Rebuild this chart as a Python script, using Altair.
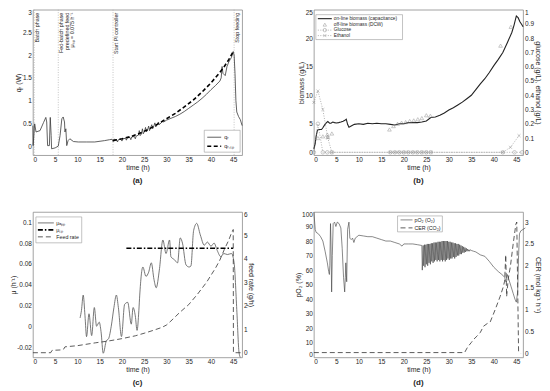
import altair as alt
import pandas as pd

FONT = "Liberation Sans"
INK = "#262626"
GRAY = "#808080"

# ---------------- (a) heat flow ----------------
QR_T = [0, 0.05, 0.4, 0.7, 1.6, 2.4, 2.9, 3.1, 3.3, 3.7, 3.9, 4.1, 4.2, 5.0, 5.7, 6.1, 6.5, 6.8, 7.1, 7.2,
        7.4, 7.6, 7.9, 8.3, 9.1, 10.2, 12.0, 13.9, 16.1, 17.2,
        17.8, 18.0, 18.2, 18.8, 19.0, 19.2, 19.8, 20.0, 20.2, 20.8, 21.0, 21.2, 21.8, 22.0, 22.2, 22.8, 23.0,
        23.2, 23.7, 23.9, 24.1, 24.4, 24.6, 24.8, 25.1, 25.3, 25.5, 25.8, 26.0, 26.2, 26.5, 26.7, 26.9, 27.2,
        27.4, 27.6, 27.9, 28.2, 28.4, 28.8, 29.1, 29.4,
        30, 31, 32, 33, 34, 35, 36, 37, 38, 39, 40, 41, 42, 42.3, 42.5, 42.7, 43.2, 43.6, 44.0, 44.3, 44.6,
        45.0, 45.2, 45.4, 45.6, 45.8, 46.2, 46.6, 47]
QR_V = [0.45, 0.01, 0.49, 0.31, 0.34, 0.52, 0.63, 0.53, 0.01, 0.01, 0.63, 0.23, -0.06, -0.04, 0.0, 0.23, 0.6, 0.64,
        0.53, 0.31, 0.38, 0.01, 0.12, 0.16, 0.1, 0.09, 0.09, 0.09, 0.12, 0.14,
        0.15, 0.10, 0.15, 0.14, 0.09, 0.14, 0.15, 0.11, 0.16, 0.17, 0.13, 0.18, 0.19, 0.14, 0.20, 0.21, 0.16,
        0.22, 0.24, 0.34, 0.23, 0.27, 0.38, 0.27, 0.33, 0.41, 0.31, 0.37, 0.44, 0.34, 0.42, 0.47, 0.38, 0.45,
        0.51, 0.42, 0.48, 0.53, 0.47, 0.51, 0.55, 0.53,
        0.57, 0.61, 0.65, 0.70, 0.76, 0.83, 0.90, 0.97, 1.05, 1.14, 1.24, 1.33, 1.43, 1.5, 1.75, 1.6, 1.55,
        1.75, 1.85, 1.9, 1.95, 2.08, 2.0, 1.6, 1.0, 0.75, 0.65, 0.58, 0.45]
QRSP_T = [18, 20, 22, 24, 26, 28, 30, 32, 34, 36, 38, 40, 42, 43, 44, 45]
QRSP_V = [0.12, 0.16, 0.21, 0.28, 0.37, 0.48, 0.6, 0.72, 0.86, 1.01, 1.19, 1.39, 1.62, 1.75, 1.9, 2.08]
PHASE_T = [0.3, 5.7, 18.0, 45.2]
PHASE_TXT = ["Batch phase", "Fed-batch phase\npredefined feed\nμₛₚ = 0.075 h⁻¹",
             "Start PI controller", "Stop feeding"]

# ---------------- (b) biomass, glucose, ethanol ----------------
BIO_T = [0, 0.3, 0.5, 0.8, 1.2, 1.7, 2.0, 2.4, 2.8, 3.1, 3.5, 3.8, 4.2, 4.6, 5.0, 5.5, 6.0, 6.5, 6.9, 7.2,
         7.5, 7.8, 8.5, 9, 10, 11, 12, 13, 14, 15, 16, 17, 18, 19, 20, 21, 22, 23, 24, 25,
         26, 27, 28, 29, 30, 31, 32, 33, 34, 35, 36, 37, 38, 39, 40, 41, 42, 43, 44, 44.5,
         45, 45.4, 45.8, 46.2, 46.5]
BIO_V = [0.6, 1.5, 2.8, 3.9, 4.0, 4.0, 4.3, 4.8, 5.2, 5.4, 5.1, 5.1, 5.3, 5.2, 5.15, 5.2, 5.3, 5.45, 5.6, 5.8,
         4.9, 4.4, 4.7, 4.9, 5.0, 4.9, 5.1, 5.0, 5.1, 5.0, 5.0, 4.9, 4.8, 5.0, 5.0, 5.2, 5.2, 5.2, 5.3, 5.5,
         6.1, 6.2, 6.5, 6.9, 7.4, 7.8, 8.3, 8.8, 9.4, 10.0, 11.0, 12.0, 12.9, 14.0, 15.2, 16.3, 17.5, 19.2,
         21.0, 22.3, 23.9, 23.6, 22.9, 22.4, 22.0]
DCW_T = [0.9, 2.0, 3.0, 3.1, 4.0, 16.8, 17.7, 18.6, 19.5, 20.4, 21.3, 22.2, 23.1, 24.0, 25.0, 25.9, 41.5, 43.8]
DCW_V = [2.5, 2.8, 3.1, 2.7, 3.3, 4.0, 4.6, 5.0, 5.2, 5.3, 5.5, 5.6, 5.8, 6.0, 6.5, 6.4, 18.7, 22.0]
GLU_T = [0, 0.9, 2.0, 3.0, 4.0, 17, 18, 19, 20, 21, 22, 23, 24, 25, 26, 42, 44.6, 46.3]
GLU_V = [0, 0.2, 0, 0, 0, 0, 0, 0, 0, 0, 0, 0, 0, 0, 0, 0, 0, 0]
ETH_T = [0, 0.9, 2.0, 3.1, 4.0, 17, 18, 19, 20, 21, 22, 23, 24, 25, 26, 42, 43.7, 45.6]
ETH_V = [0.35, 0.43, 0.3, 0.1, 0, 0, 0, 0, 0, 0, 0, 0, 0, 0, 0, 0, 0.035, 0.117]

# ---------------- (c) growth rate and feed ----------------
MU_T = [10.6, 10.9, 11.3, 11.7, 12.05, 12.6, 13.2, 13.8, 14.3, 14.9, 15.3, 15.8, 16.5, 17.0, 17.6, 18.2,
        18.75, 19.2, 19.9, 20.6, 21.3, 22.1, 22.5, 23.0, 23.4, 23.8, 24.0, 24.7, 25.4, 26.0, 26.6, 27.2,
        27.7, 28.4, 29.2, 29.9, 30.7, 31.0, 31.8, 32.5, 33.1, 33.6, 34.4, 35.1, 35.5, 36.1, 36.8, 37.6,
        38.5, 39.2, 40.0, 40.7, 41.4, 42.2, 42.9, 43.7, 44.6, 45.2, 45.8, 46.3, 46.6]
MU_V = [0.008, 0.015, 0.030, 0.010, -0.010, 0.012, -0.009, 0.018, 0.000, 0.004, -0.005, -0.026, -0.014,
        -0.012, 0.000, 0.018, 0.030, 0.018, -0.010, 0.021, 0.023, 0.002, 0.018, 0.010, -0.004, 0.015,
        0.030, 0.057, 0.048, 0.052, 0.061, 0.045, 0.037, 0.054, 0.083, 0.070, 0.083, 0.067, 0.064, 0.061,
        0.085, 0.080, 0.059, 0.057, 0.058, 0.092, 0.099, 0.088, 0.078, 0.081, 0.077, 0.080, 0.073, 0.067,
        0.070, 0.069, 0.070, 0.061, 0.016, -0.025, -0.03]
MUSP_T = [21, 45]
MUSP_V = [0.075, 0.075]
FEED_T = [0, 4.0, 4.3, 6.5, 6.9, 7.2, 10, 14, 17, 20, 23, 25, 27, 29, 30, 31, 33, 35, 37, 39, 41, 42, 43,
          44, 44.5, 45.0, 45.05, 47]
FEED_V = [0, 0, 0.1, 0.12, 0.15, 0.25, 0.3, 0.42, 0.5, 0.6, 0.72, 0.83, 0.95, 1.08, 1.18, 1.35, 1.72, 2.05,
          2.5, 3.0, 3.6, 3.95, 4.4, 4.8, 5.05, 5.25, 0, 0]

# ---------------- (d) pO2 and CER ----------------
PO2_T = ([0, 0.3, 0.5, 1.0, 1.5, 2.0, 2.5, 3.0, 3.3, 3.45, 3.55, 3.7, 3.8, 3.95, 4.1, 4.3, 4.6, 4.9, 5.2, 5.6,
          6.0, 6.3, 6.6, 6.85, 7.0, 7.1, 7.3, 7.5, 7.8, 8.0, 8.3, 8.6, 8.9, 9.2, 9.6, 10, 11, 12, 13, 14, 15,
          16, 17, 18, 19, 19.6, 20, 21, 22, 23, 23.9]
         + [24.0, 24.1, 24.3, 24.4, 24.6, 24.7, 24.9, 25.0, 25.2, 25.3, 25.5, 25.6, 25.8, 25.9, 26.1, 26.2,
            26.4, 26.5, 26.7, 26.8, 27.0, 27.1, 27.3, 27.4, 27.6, 27.7, 27.9, 28.0, 28.2, 28.3, 28.5, 28.6,
            28.8, 28.9, 29.1, 29.2, 29.4, 29.5, 29.7, 29.8, 30.0, 30.1, 30.3, 30.4, 30.6, 30.7, 30.9, 31.0,
            31.2, 31.3, 31.5, 31.6, 31.8, 31.9, 32.1, 32.2, 32.4, 32.5, 32.7, 32.8, 33.0, 33.1, 33.3, 33.4,
            33.6, 33.7, 33.9, 34.0, 34.2, 34.3, 34.5, 34.6, 34.8, 35.0, 35.5]
         + [36, 37, 38, 39, 40, 41, 42, 42.4, 42.7, 43.0, 43.3, 43.8, 44.3, 44.7, 45.0, 45.3, 45.5, 45.7, 46,
            46.5, 47])
PO2_V = ([100, 88, 86, 85, 83, 80, 73, 65, 59, 57, 63, 92, 80, 45, 70, 92, 93, 90, 93, 92, 89, 75, 55, 45, 55,
          65, 52, 88, 93, 82, 81, 82, 79, 82, 83, 84, 83.5, 83, 83, 82, 81, 80, 80, 79, 78, 76.5, 78, 78, 78,
          77.5, 77]
         + [77, 60, 77, 63, 77.5, 62, 77.5, 64, 78, 63, 78, 65, 78, 64, 78.5, 66, 78.5, 65, 79, 66, 79, 67, 79,
            66, 79.5, 67, 79.5, 66, 79.5, 67, 80, 66, 80, 67, 80, 66, 80, 67, 80, 68, 79.5, 67, 79.5, 68, 79,
            68, 79, 69, 78.5, 68, 78.5, 69, 78, 70, 78, 70, 77.5, 71, 77, 71, 76.5, 72, 76, 72, 75.5, 72.5, 75,
            73, 74.5, 73, 74, 73, 74, 73.5, 73]
         + [72.5, 70.5, 69.5, 66, 62, 59, 56.5, 55, 52, 57, 54, 49, 44, 40, 38, 45, 70, 85, 87, 88, 89])
CER_T = [0, 33.5, 34.2, 35.0, 35.5, 36.3, 37.0, 37.7, 38.5, 39.2, 40.3, 41.4, 42.1, 42.4, 42.65, 42.85, 43.2,
         43.7, 44.3, 44.9, 45.1, 45.3, 45.5, 46.0]
CER_V = [0.02, 0.02, 0.15, 0.25, 0.32, 0.4, 0.48, 0.62, 0.68, 0.72, 1.0, 1.3, 1.52, 1.65, 2.25, 1.3, 1.7,
         2.0, 2.5, 2.95, 3.0, 1.5, 0.05, 0.0]

W, H = 210, 146
ONE = pd.DataFrame({"k": [0]})
MINUS = "replace(datum.label, '\u2212', '-')"


def df(t, v):
    return pd.DataFrame({"t": t, "v": v})


def xenc(dmax):
    return alt.X("t:Q", scale=alt.Scale(domain=[0, dmax], nice=False, zero=False),
                 axis=alt.Axis(values=list(range(0, 50, 5)), title="time (h)", format="d"))


def yenc(domain, values, title, fmt, orient="left"):
    return alt.Y("v:Q", scale=alt.Scale(domain=domain, nice=False, zero=False),
                 axis=alt.Axis(values=values, title=title, orient=orient, format=fmt,
                               labelExpr=MINUS, labelFlush=True))


def leg_box(x1, x2, y1, y2):
    return alt.Chart(ONE).mark_rect(fill="white", stroke="#9a9a9a", strokeWidth=0.6).encode(
        x=alt.value(x1), x2=alt.value(x2), y=alt.value(y1), y2=alt.value(y2))


def leg_line(x1, x2, y, color, width, dash=None):
    kw = dict(color=color, strokeWidth=width)
    if dash:
        kw["strokeDash"] = dash
    return alt.Chart(ONE).mark_rule(**kw).encode(x=alt.value(x1), x2=alt.value(x2), y=alt.value(y))


def leg_text(x, y, txt, size=5.3):
    return alt.Chart(ONE).mark_text(text=txt, align="left", baseline="middle", fontSize=size,
                                    font=FONT, color=INK).encode(x=alt.value(x), y=alt.value(y))


def leg_point(x, y, shape, size=12):
    return alt.Chart(ONE).mark_point(shape=shape, filled=False, size=size, color=GRAY,
                                     strokeWidth=0.6).encode(x=alt.value(x), y=alt.value(y))


XMARK = "M-1,-1L1,1M-1,1L1,-1"

# ---------- panel (a)
xa = xenc(47)
ya = yenc([-0.2, 3], [0, 0.5, 1, 1.5, 2, 2.5, 3], "qᵣ (W)", ".1~f")
phase = pd.DataFrame({"t": PHASE_T, "txt": PHASE_TXT})
pa = alt.layer(
    alt.Chart(phase).mark_rule(color="#aaaaaa", strokeDash=[1, 1.5], strokeWidth=0.7).encode(x=xa),
    alt.Chart(phase).mark_text(angle=270, align="right", baseline="top", dy=1.2, fontSize=5.4,
                               lineBreak="\n", lineHeight=5.2, font=FONT, color=INK).encode(
        x=xa, y=alt.value(3), text="txt:N"),
    alt.Chart(df(QR_T, QR_V)).mark_line(color="#3a3a3a", strokeWidth=0.8).encode(x=xa, y=ya),
    alt.Chart(df(QRSP_T, QRSP_V)).mark_line(color="black", strokeWidth=1.6, strokeDash=[4, 2.5]).encode(x=xa, y=ya),
    leg_box(172, 208, 121, 143),
    leg_line(175, 189, 128, "#3a3a3a", 0.8),
    leg_line(175, 189, 137, "black", 1.6, [4, 2.5]),
    leg_text(192, 128, "qᵣ", 5.5),
    leg_text(192, 137, "qᵣ,ₛₚ", 5.5),
).properties(width=W, height=H, title=alt.TitleParams("(a)", orient="bottom", offset=6))

# ---------- panel (b)
xb = xenc(46.5)
ybl = yenc([-0.5, 25], [0, 5, 10, 15, 20, 25], "biomass (g/L)", "d")
ybr = yenc([-0.02, 1], [0, 0.1, 0.2, 0.3, 0.4, 0.5, 0.6, 0.7, 0.8, 0.9, 1],
           "glucose (g/L), ethanol (g/L)", ".1~f", "right")
b_left = alt.layer(
    alt.Chart(df(BIO_T, BIO_V)).mark_line(color="#222222", strokeWidth=1.1).encode(x=xb, y=ybl),
    alt.Chart(df(DCW_T, DCW_V)).mark_point(shape="triangle-up", filled=False, size=14, color=GRAY,
                                           strokeWidth=0.6).encode(x=xb, y=ybl),
)
b_right = alt.layer(
    alt.Chart(df(GLU_T, GLU_V)).mark_line(color=GRAY, strokeWidth=0.6, strokeDash=[1, 1.5]).encode(x=xb, y=ybr),
    alt.Chart(df(ETH_T, ETH_V)).mark_line(color=GRAY, strokeWidth=0.6, strokeDash=[1, 1.5]).encode(x=xb, y=ybr),
    alt.Chart(df(GLU_T, GLU_V)).mark_point(shape="circle", filled=False, size=13, color=GRAY,
                                           strokeWidth=0.6).encode(x=xb, y=ybr),
    alt.Chart(df(ETH_T, ETH_V)).mark_point(shape=XMARK, filled=False, size=9, color=GRAY,
                                           strokeWidth=0.6).encode(x=xb, y=ybr),
)
pb = alt.layer(
    b_left, b_right,
    leg_box(2, 89, 5, 30),
    leg_line(4, 18, 9, "#222222", 1.1),
    leg_point(11, 15, "triangle-up"),
    leg_line(4, 18, 20.5, GRAY, 0.6, [1, 1.5]),
    leg_point(11, 20.5, "circle"),
    leg_line(4, 18, 26, GRAY, 0.6, [1, 1.5]),
    leg_point(11, 26, XMARK, 9),
    leg_text(20, 9, "on-line biomass (capacitance)", 4.8),
    leg_text(20, 15, "off-line biomass (DCW)", 4.8),
    leg_text(20, 20.5, "Glucose", 4.8),
    leg_text(20, 26, "Ethanol", 4.8),
).resolve_scale(y="independent").properties(
    width=W, height=H, title=alt.TitleParams("(b)", orient="bottom", offset=6))

# ---------- panel (c)
xc = xenc(47)
ycl = yenc([-0.03, 0.11], [-0.02, 0, 0.02, 0.04, 0.06, 0.08, 0.1], "μ (h⁻¹)", ".2~f")
ycr = yenc([-0.2, 6], [0, 1, 2, 3, 4, 5, 6], "feed rate (g/h)", "d", "right")
c_left = alt.layer(
    alt.Chart(df(MU_T, MU_V)).mark_line(color="#555555", strokeWidth=0.8,
                                        interpolate="monotone").encode(x=xc, y=ycl),
    alt.Chart(df(MUSP_T, MUSP_V)).mark_line(color="black", strokeWidth=1.6,
                                            strokeDash=[5, 2, 1.5, 2]).encode(x=xc, y=ycl),
)
c_right = alt.Chart(df(FEED_T, FEED_V)).mark_line(color="#333333", strokeWidth=0.8,
                                                  strokeDash=[5, 3]).encode(x=xc, y=ycr)
pc = alt.layer(
    c_left, c_right,
    leg_box(3, 49, 5, 31),
    leg_line(5, 21, 11, "#555555", 0.8),
    leg_line(5, 21, 18, "black", 1.6, [5, 2, 1.5, 2]),
    leg_line(5, 21, 25, "#333333", 0.8, [5, 3]),
    leg_text(23.5, 11, "μₐₚₚ"),
    leg_text(23.5, 18, "μₛₚ"),
    leg_text(23.5, 25, "Feed rate"),
).resolve_scale(y="independent").properties(
    width=W, height=H, title=alt.TitleParams("(c)", orient="bottom", offset=6))

# ---------- panel (d)
xd = xenc(46.5)
ydl = yenc([0, 100], list(range(0, 101, 10)), "pO₂ (%)", "d")
ydr = yenc([-0.09, 3.23], [0, 0.5, 1, 1.5, 2, 2.5, 3], "CER (mol kg⁻¹ h⁻¹)", ".1~f", "right")
pd_ = alt.layer(
    alt.Chart(df(PO2_T, PO2_V)).mark_line(color="#3a3a3a", strokeWidth=0.6).encode(x=xd, y=ydl),
    alt.Chart(df(CER_T, CER_V)).mark_line(color="#333333", strokeWidth=0.8,
                                          strokeDash=[5, 3]).encode(x=xd, y=ydr),
    leg_box(84, 129, 4, 20),
    leg_line(87, 99, 8, "#3a3a3a", 0.6),
    leg_line(87, 99, 16, "#333333", 0.8, [5, 3]),
    leg_text(101, 8, "pO₂ (O₂)"),
    leg_text(101, 16, "CER (CO₂)"),
).resolve_scale(y="independent").properties(
    width=W, height=H, title=alt.TitleParams("(d)", orient="bottom", offset=6))

chart = alt.concat(
    pa, pb, pc, pd_, columns=2, spacing={"row": 57, "column": 72}, bounds="flush"
).properties(
    padding={"left": 0, "top": 0, "right": 0, "bottom": 0}
).configure_axis(
    labelFont=FONT, titleFont=FONT, labelFontSize=6.5, titleFontSize=7, labelColor=INK, titleColor=INK,
    titleFontWeight="normal", ticks=False, domain=False, grid=False, labelPadding=1.5, titlePadding=0.5
).configure_view(
    stroke="#8c8c8c", strokeWidth=0.8
).configure_title(
    font=FONT, fontSize=8, fontWeight="bold", color=INK
)

chart.save("out.html", embed_options={"renderer": "svg", "actions": False})
